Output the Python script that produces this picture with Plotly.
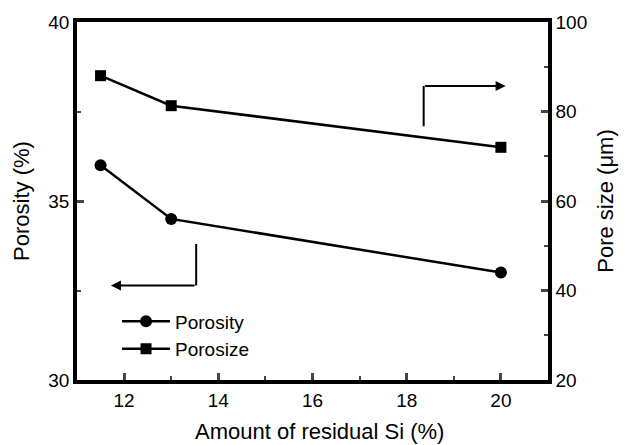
import plotly.graph_objects as go

si = [11.5, 13, 20]
porosity = [36.0, 34.5, 33.0]
pore_size = [88.0, 81.3, 72.0]

x_ticks = [12, 14, 16, 18, 20]
y1_ticks = [30, 35, 40]
y2_ticks = [20, 40, 60, 80, 100]

# indicator arrows (data coordinates)
left_arrow_x = [13.53, 13.53, 11.72]
left_arrow_y = [33.8, 32.64, 32.64]
right_arrow_x = [18.36, 18.36, 20.1]
right_arrow_y = [76.7, 85.7, 85.7]

FONT = "Liberation Sans, Arial, sans-serif"
TICK = 19
TITLE = 22

fig = go.Figure()
fig.add_trace(go.Scatter(x=si, y=porosity, name="Porosity", mode="lines+markers",
                         line=dict(color="black", width=2.5),
                         marker=dict(symbol="circle", size=12, color="black")))
fig.add_trace(go.Scatter(x=si, y=pore_size, name="Porosize", mode="lines+markers",
                         yaxis="y2",
                         line=dict(color="black", width=2.5),
                         marker=dict(symbol="square", size=11, color="black")))

# L-shaped indicator lines
fig.add_trace(go.Scatter(x=left_arrow_x[:2], y=left_arrow_y[:2], mode="lines",
                         line=dict(color="black", width=2), showlegend=False, hoverinfo="skip"))
fig.add_trace(go.Scatter(x=right_arrow_x[:2], y=right_arrow_y[:2], mode="lines", yaxis="y2",
                         line=dict(color="black", width=2), showlegend=False, hoverinfo="skip"))
fig.add_annotation(x=left_arrow_x[2], y=left_arrow_y[2], ax=left_arrow_x[1], ay=left_arrow_y[1],
                   xref="x", yref="y", axref="x", ayref="y", text="", showarrow=True,
                   arrowhead=2, arrowsize=1, arrowwidth=2, arrowcolor="black")
fig.add_annotation(x=right_arrow_x[2], y=right_arrow_y[2], ax=right_arrow_x[1], ay=right_arrow_y[1],
                   xref="x", yref="y2", axref="x", ayref="y2", text="", showarrow=True,
                   arrowhead=2, arrowsize=1, arrowwidth=2, arrowcolor="black")

# x-axis title
fig.add_annotation(text="Amount of residual Si (%)", xref="paper", yref="paper",
                   x=0.515, y=-0.143, xanchor="center", yanchor="middle",
                   showarrow=False, font=dict(size=TITLE))

fig.update_layout(
    width=630, height=445,
    margin=dict(l=77, r=82, t=17, b=65),
    paper_bgcolor="white", plot_bgcolor="white",
    font=dict(family=FONT, size=TICK, color="black"),
    showlegend=True,
    legend=dict(x=0.085, y=0.217, xanchor="left", yanchor="top",
                bgcolor="rgba(0,0,0,0)", font=dict(size=19), itemwidth=48,
                tracegroupgap=0),
    xaxis=dict(range=[11, 21], tickvals=x_ticks, ticks="inside", ticklen=7, tickwidth=2.5,
               minor=dict(dtick=1, tick0=11, ticks="inside", ticklen=4, tickwidth=2),
               showline=True, linewidth=3.5, linecolor="black", mirror=True,
               showgrid=False, zeroline=False,
               tickfont=dict(size=TICK)),
    yaxis=dict(range=[30, 40], tickvals=y1_ticks, ticks="inside", ticklen=7, tickwidth=2.5,
               minor=dict(dtick=2.5, tick0=30, ticks="inside", ticklen=4, tickwidth=2),
               showline=True, linewidth=3.5, linecolor="black", mirror=True,
               showgrid=False, zeroline=False,
               title=dict(text="Porosity (%)", standoff=14, font=dict(size=TITLE)),
               tickfont=dict(size=TICK)),
    yaxis2=dict(range=[20, 100], tickvals=y2_ticks, overlaying="y", side="right",
                ticks="inside", ticklen=7, tickwidth=2.5,
                minor=dict(dtick=10, tick0=20, ticks="inside", ticklen=4, tickwidth=2),
                showline=True, linewidth=3.5, linecolor="black",
                showgrid=False, zeroline=False,
                title=dict(text="Pore size (μm)", standoff=12, font=dict(size=TITLE)),
                tickfont=dict(size=TICK)),
)

fig.write_html("out.html")
